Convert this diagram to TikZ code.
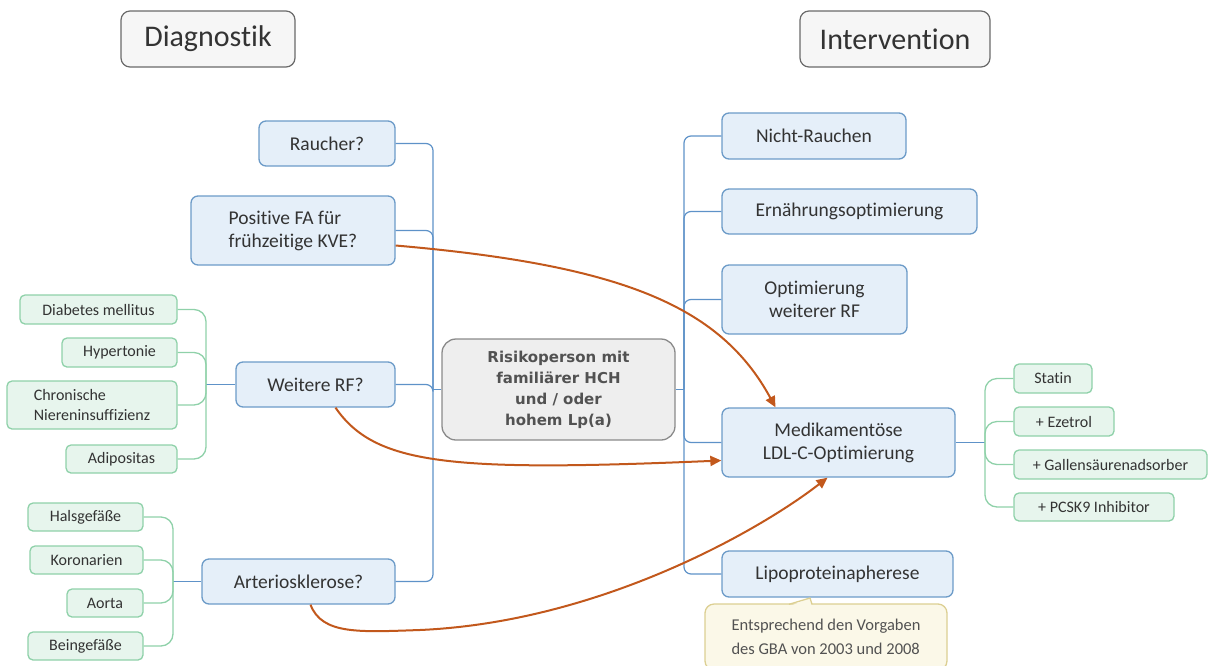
\documentclass[tikz,border=0pt]{standalone}
\usepackage{fontspec}
\setmainfont{Carlito}[Ligatures={NoCommon}]
\newfontfamily\boldfont{DejaVu Sans}
\usetikzlibrary{arrows.meta,calc}
\definecolor{bfill}{HTML}{E5EFF9}
\definecolor{bdraw}{HTML}{6C9BC8}
\definecolor{bline}{HTML}{5E92C8}
\definecolor{gfill}{HTML}{E7F5ED}
\definecolor{gdraw}{HTML}{8FD1A9}
\definecolor{cfill}{HTML}{EEEEEE}
\definecolor{cdraw}{HTML}{8A8A8A}
\definecolor{tfill}{HTML}{F6F6F6}
\definecolor{tdraw}{HTML}{6A6A6A}
\definecolor{nfill}{HTML}{FBF8E8}
\definecolor{ndraw}{HTML}{DCCF92}
\definecolor{orng}{HTML}{C2581C}
\definecolor{txt}{HTML}{333333}
\tikzset{
  bx/.style={draw=bdraw, fill=bfill, line width=1.3pt, rounded corners=7pt, inner sep=0pt, align=center, text=txt, font=\fontsize{19.5}{23}\selectfont},
  gx/.style={draw=gdraw, fill=gfill, line width=1.3pt, rounded corners=5pt, inner sep=0pt, align=center, text=txt, font=\fontsize{16}{20}\selectfont},
  tx/.style={draw=tdraw, fill=tfill, line width=1.2pt, rounded corners=9pt, inner sep=0pt, text=txt, font=\fontsize{30}{34}\selectfont},
  bl/.style={draw=bline, line width=1.2pt, rounded corners=7pt},
  gl/.style={draw=gdraw, line width=1.3pt, rounded corners=12pt},
  orr/.style={draw=orng, line width=2pt, -{Triangle[length=11pt,width=10pt]}},
}
\begin{document}
\begin{tikzpicture}[x=1pt,y=-1pt]
\useasboundingbox (0,0) rectangle (1208,665);
% titles
\node[tx, minimum width=174pt, minimum height=56pt] (diag) at (208,39) {Diagnostik};
\node[tx, minimum width=190pt, minimum height=56pt] (interv) at (895,39) {Intervention};
% left nodes
\node[bx, minimum width=136pt, minimum height=45pt] (rau) at (327,143.5) {Raucher?};
\node[bx, minimum width=204pt, minimum height=69pt, align=left] (pfa) at (293,230.5) {Positive FA für\\frühzeitige KVE?};
\node[bx, minimum width=159pt, minimum height=45pt] (wrf) at (315.5,384.5) {Weitere RF?};
\node[bx, minimum width=193pt, minimum height=45pt] (art) at (298.5,581.5) {Arteriosklerose?};
% center
\node[draw=cdraw, fill=cfill, line width=1.3pt, rounded corners=14pt, minimum width=233pt, minimum height=101pt, align=center, text=txt!85, font=\boldfont\bfseries\fontsize{15}{21}\selectfont] (ctr) at (558.5,389.5) {Risikoperson mit\\familiärer HCH\\und / oder\\hohem Lp(a)};
% right nodes
\node[bx, minimum width=184pt, minimum height=46pt] (nr) at (814,136) {Nicht-Rauchen};
\node[bx, minimum width=255pt, minimum height=45pt] (eo) at (849.5,211.5) {Ernährungsoptimierung};
\node[bx, minimum width=185pt, minimum height=69pt] (ow) at (814.5,299.5) {Optimierung\\weiterer RF};
\node[bx, minimum width=233pt, minimum height=69pt] (mk) at (838.5,442.5) {Medikamentöse\\LDL-C-Optimierung};
\node[bx, minimum width=231pt, minimum height=46pt] (lp) at (837.5,574) {Lipoproteinapherese};
% note
\node[draw=ndraw, fill=nfill, line width=1.3pt, rounded corners=9pt, minimum width=242pt, minimum height=66pt, inner sep=0pt, align=left, text=txt!85, font=\fontsize{16.5}{24}\selectfont] (note) at (826,637) {Entsprechend den Vorgaben\\des GBA von 2003 und 2008};
\fill[nfill] (789,606.5) -- (810,598) -- (812,606.5) -- cycle;
\draw[ndraw, line width=1.3pt, line join=round] (789,604.3) -- (810,598) -- (812,604.3);
% green left top
\node[gx, minimum width=157pt, minimum height=29pt] (dm) at (98.5,309.5) {Diabetes mellitus};
\node[gx, minimum width=115pt, minimum height=29pt] (hy) at (119.5,352.5) {Hypertonie};
\node[gx, minimum width=170pt, minimum height=48pt, align=left] (cn) at (92,405) {Chronische\\Niereninsuffizienz};
\node[gx, minimum width=111pt, minimum height=28pt] (ad) at (121.5,459) {Adipositas};
% green left bottom
\node[gx, minimum width=115pt, minimum height=28pt] (hg) at (85.5,517) {Halsgefäße};
\node[gx, minimum width=113pt, minimum height=28pt] (ko) at (86.5,560) {Koronarien};
\node[gx, minimum width=76pt, minimum height=28pt] (ao) at (105,603) {Aorta};
\node[gx, minimum width=115pt, minimum height=28pt] (bg) at (85.5,646) {Beingefäße};
% green right
\node[gx, minimum width=78pt, minimum height=29pt] (st) at (1053,378.5) {Statin};
\node[gx, minimum width=100pt, minimum height=29pt] (ez) at (1064,421.5) {+ Ezetrol};
\node[gx, minimum width=193pt, minimum height=29pt] (ga) at (1110.5,464.5) {+ Gallensäurenadsorber};
\node[gx, minimum width=160pt, minimum height=28pt] (pc) at (1094,507) {+ PCSK9 Inhibitor};
% spines
\coordinate (ls) at (433,389.5);
\coordinate (rs) at (684,389.5);
\coordinate (g1) at (206,384.5);
\coordinate (g2) at (173,581.5);
\coordinate (g3) at (985,442.5);
\draw[bl] (rau.east) -| (ls);
\draw[bl] (pfa.east) -| (ls);
\draw[bl] (wrf.east) -| (ls);
\draw[bl] (art.east) -| (ls);
\draw[bl] (ctr.west) -- (ls);
\draw[bl] (nr.west) -| (rs);
\draw[bl] (eo.west) -| (rs);
\draw[bl] (ow.west) -| (rs);
\draw[bl] (mk.west) -| (rs);
\draw[bl] (lp.west) -| (rs);
\draw[bl] (ctr.east) -- (rs);
\draw[bl] (wrf.west) -- (g1);
\draw[bl] (art.west) -- (g2);
\draw[bl] (mk.east) -- (g3);
\foreach \n in {dm,hy,cn,ad} \draw[gl] (\n.east) -| (g1);
\foreach \n in {hg,ko,ao,bg} \draw[gl] (\n.east) -| (g2);
\foreach \n in {st,ez,ga,pc} \draw[gl] (\n.west) -| (g3);
% orange arrows
\coordinate (a1s) at ($(pfa.east)+(0,15)$);
\coordinate (a1e) at ($(mk.north)+(-63,0)$);
\draw[orr] (a1s) .. controls (620,265) and (720,305) .. (a1e);
\coordinate (a2s) at ($(wrf.south)+(20,0)$);
\coordinate (a2e) at ($(mk.west)+(0,18)$);
\draw[orr] (a2s) .. controls (375,465) and (450,472) .. (a2e);
\coordinate (a3s) at ($(art.south)+(12,0)$);
\coordinate (a3m) at (420,630);
\coordinate (a3e) at ($(mk.south)+(-11,0)$);
\draw[orr] (a3s) .. controls (322,635) and (360,632) .. (a3m) .. controls (600,622) and (760,530) .. (a3e);
\end{tikzpicture}
\end{document}
